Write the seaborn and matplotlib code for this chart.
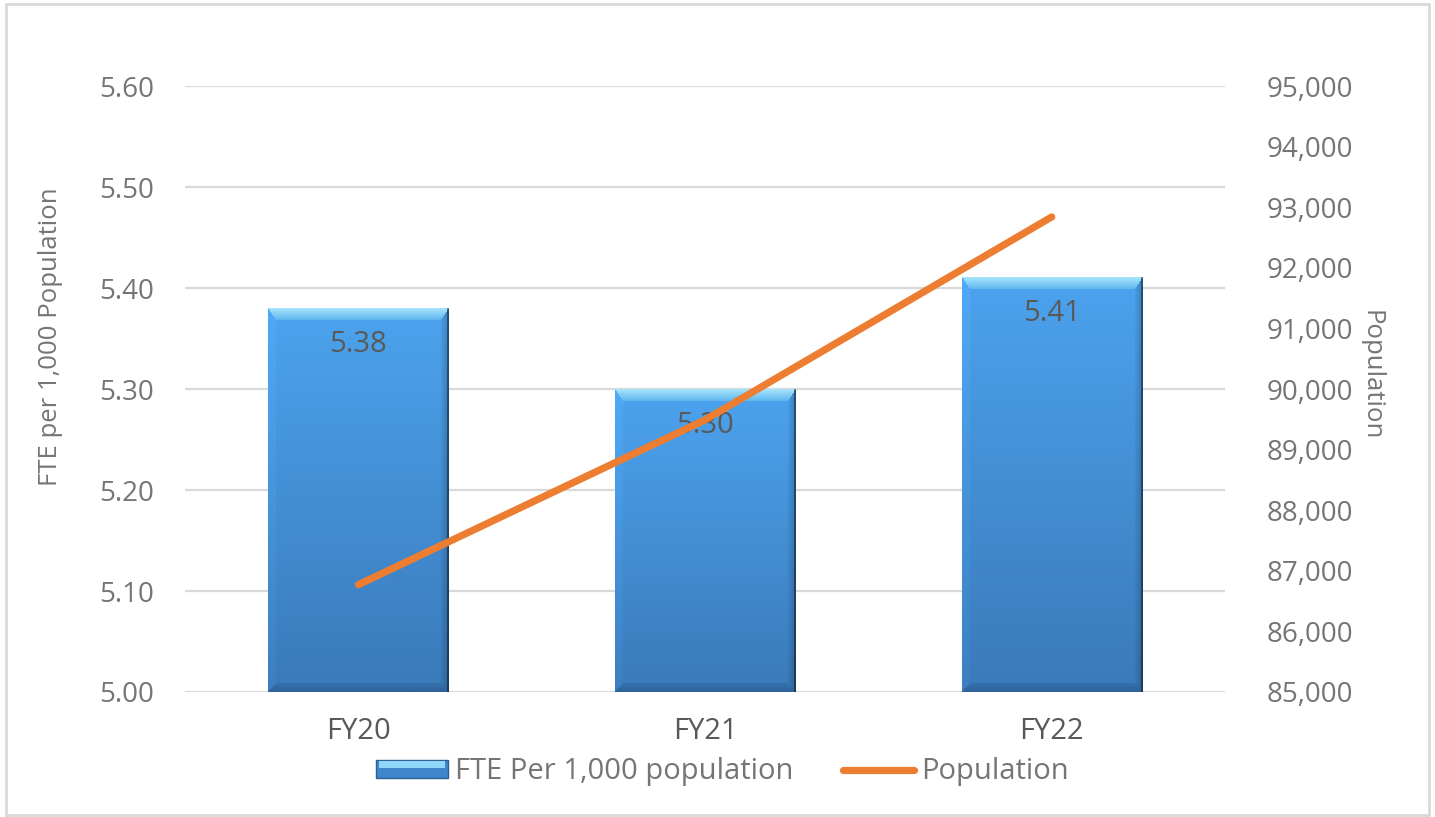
import numpy as np
import pandas as pd
import matplotlib
matplotlib.use("Agg")
import matplotlib.pyplot as plt
from matplotlib.patches import Patch, Rectangle
from matplotlib.lines import Line2D
from matplotlib.legend_handler import HandlerBase
from matplotlib.ticker import FuncFormatter, MultipleLocator
from matplotlib.colors import to_rgb
import seaborn as sns

# ---- data ----
years = ["FY20", "FY21", "FY22"]
fte_per_1000 = [5.38, 5.30, 5.41]
population = [86770, 89490, 92840]

bar_label = "FTE Per 1,000 population"
line_label = "Population"

sns.set_theme(style="white")
plt.rcParams["font.family"] = ["Open Sans", "DejaVu Sans"]

TICK_GREY = "#757575"
LABEL_GREY = "#595959"
GRID_GREY = "#d9d9d9"
ORANGE = "#ED7D31"
BAR_BLUE = "#4A97E0"

df = pd.DataFrame({"year": years, "fte": fte_per_1000, "pop": population})

fig = plt.figure(figsize=(14.35, 8.17), dpi=100)
ax = fig.add_axes([0.1289, 0.153, 0.7248, 0.7417])

sns.barplot(data=df, x="year", y="fte", ax=ax, color=BAR_BLUE,
            width=0.52, saturation=1, zorder=2)
ax.set_ylim(5.0, 5.6)
ax.set_xlim(-0.5, 2.5)
ax.yaxis.set_major_locator(MultipleLocator(0.1))
ax.yaxis.set_major_formatter(FuncFormatter(lambda v, _: f"{v:.2f}"))
ax.grid(axis="y", color=GRID_GREY, linewidth=1.6, zorder=0)
ax.set_axisbelow(True)
for s in ax.spines.values():
    s.set_visible(False)
ax.tick_params(axis="y", length=0, pad=22, labelsize=20, labelcolor=TICK_GREY)
ax.tick_params(axis="x", length=0, pad=18, labelsize=21, labelcolor=LABEL_GREY)
ax.set_xlabel("")
ax.set_ylabel("FTE per 1,000 Population", fontsize=18.5, color=TICK_GREY)
ax.yaxis.set_label_coords(-0.117, 0.587)

# ---- bevelled gradient fill for each bar ----
fig.canvas.draw()


def mix(c1, c2, t):
    c1, c2 = np.array(to_rgb(c1)), np.array(to_rgb(c2))
    return c1 + (c2 - c1) * t


bars = list(ax.patches)
for p in bars:
    x0, w, top = p.get_x(), p.get_width(), p.get_height()
    y0 = ax.get_ylim()[0]
    (px0, py0) = ax.transData.transform((x0, y0))
    (px1, py1) = ax.transData.transform((x0 + w, top))
    W, H = int(round(px1 - px0)), int(round(py1 - py0))
    ii, jj = np.mgrid[0:H, 0:W]
    t = ii / max(H - 1, 1)
    interior = mix("#4CA3EE", "#3A7AB9", t[..., None])
    img = interior.copy()
    bt, bs, bb = 12, 8, 9
    dt, db = ii.astype(float), (H - 1 - ii).astype(float)
    dl, dr = jj.astype(float), (W - 1 - jj).astype(float)
    nt, nb, nl, nr = dt / bt, db / bb, dl / bs, dr / bs
    stack = np.stack([nt, nb, nl, nr])
    face = np.argmin(stack, axis=0)
    inside = np.min(stack, axis=0) < 1
    top_col = mix("#A6E4FB", "#5CB4F0", np.clip(nt, 0, 1)[..., None])
    bot_col = mix("#2F6399", "#3672B0", np.clip(nb, 0, 1)[..., None])
    left_col = interior * 1.04
    right_col = interior * (0.80 + 0.18 * np.clip(nr, 0, 1)[..., None])
    for k, col in enumerate([top_col, bot_col, left_col, right_col]):
        m = inside & (face == k)
        img[m] = col[m]
    # thin dark rim on the right edge
    img[:, -2:] = img[:, -2:] * 0.6
    img = np.clip(img, 0, 1)
    p.set_facecolor(BAR_BLUE)
    p.set_edgecolor("none")
    ax.imshow(img, extent=(x0, x0 + w, y0, top), aspect="auto",
              interpolation="bilinear", zorder=3)
    # soft shadow under the bar
    ax.add_patch(Rectangle((x0, y0), w, 0.006, facecolor="#c8c8c8",
                           edgecolor="none", zorder=1.5, clip_on=False))
ax.set_xlim(-0.5, 2.5)
ax.set_ylim(5.0, 5.6)

# value labels inside the bars
for p, v in zip(bars, fte_per_1000):
    ax.annotate(f"{v:.2f}", (p.get_x() + p.get_width() / 2, v),
                xytext=(0, -36), textcoords="offset pixels",
                ha="center", va="center", fontsize=21, color=LABEL_GREY,
                zorder=4)

# ---- population line on the secondary axis ----
ax2 = ax.twinx()
sns.lineplot(data=df, x="year", y="pop", ax=ax2, color=ORANGE,
             linewidth=5.2, sort=False, solid_capstyle="round")
ax2.set_ylim(85000, 95000)
ax2.set_xlim(-0.5, 2.5)
ax2.yaxis.set_major_locator(MultipleLocator(1000))
ax2.yaxis.set_major_formatter(FuncFormatter(lambda v, _: f"{v:,.0f}"))
ax2.grid(False)
for s in ax2.spines.values():
    s.set_visible(False)
ax2.tick_params(axis="y", length=0, pad=30, labelsize=20, labelcolor=TICK_GREY)
ax2.set_ylabel("Population", fontsize=18.5, color=TICK_GREY, rotation=270,
               va="center")
ax2.yaxis.set_label_coords(1.14, 0.523)


# ---- legend ----
class BevelBarHandler(HandlerBase):
    def create_artists(self, legend, orig_handle, xdescent, ydescent,
                       width, height, fontsize, trans):
        x, y = -xdescent, -ydescent
        base = Rectangle((x, y), width, height, facecolor="#3F86CC",
                         edgecolor="#2C5F95", linewidth=1.0, transform=trans)
        band = Rectangle((x + 2, y + height * 0.55), width - 4, height * 0.4,
                         facecolor="#8FD6F8", edgecolor="none", transform=trans)
        return [base, band]


handles = [
    Patch(facecolor=BAR_BLUE),
    Line2D([0], [0], color=ORANGE, linewidth=5.2, solid_capstyle="round"),
]
leg = ax2.legend(handles, [bar_label, line_label], loc="center",
                 bbox_to_anchor=(0.517, -0.132), ncol=2, frameon=False,
                 fontsize=21, handlelength=2.45, handleheight=0.6,
                 handletextpad=0.25, columnspacing=1.7,
                 handler_map={Patch: BevelBarHandler()})
for txt in leg.get_texts():
    txt.set_color(TICK_GREY)

# chart border
fig.patches.append(Rectangle((0.004, 0.003), 0.992, 0.992,
                             transform=fig.transFigure, fill=False,
                             edgecolor="#d9d9d9", linewidth=2))

fig.savefig("out.png", dpi=100)
